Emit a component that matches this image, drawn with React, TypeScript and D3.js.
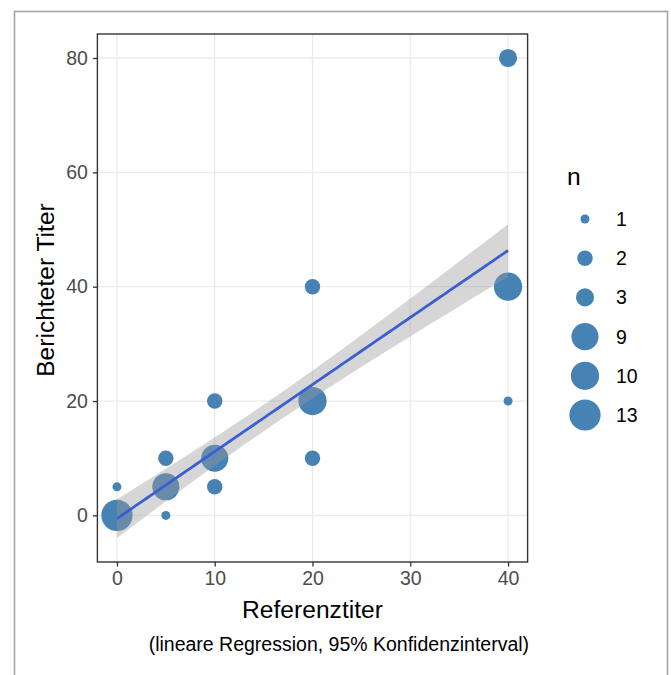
import React, { useRef, useEffect } from "react";
import * as d3 from "d3";

// data: Referenztiter (x), Berichteter Titer (y), Anzahl (n)
const refTiter = [0, 0, 5, 5, 5, 10, 10, 10, 20, 20, 20, 40, 40, 40];
const repTiter = [0, 5, 0, 5, 10, 5, 10, 20, 10, 20, 40, 20, 40, 80];
const counts = [13, 1, 1, 9, 2, 2, 9, 2, 2, 10, 2, 1, 10, 3];

const xTicks = [0, 10, 20, 30, 40];
const yTicks = [0, 20, 40, 60, 80];
const legendValues = [1, 2, 3, 9, 10, 13];

const W = 671;
const H = 675;
const panel = { left: 97.4, right: 527.6, top: 34, bottom: 562 };
const font = "Liberation Sans, Arial, sans-serif";
const pointColor = "#4682B4";

function App() {
  const svgRef = useRef<SVGSVGElement>(null);

  useEffect(() => {
    const svg = d3.select(svgRef.current);
    svg.selectAll("*").remove();

    const data = refTiter.map((x, i) => ({ x, y: repTiter[i], n: counts[i] }));

    // weighted linear regression (weights = n), like lm on the expanded data
    const N = d3.sum(data, (d) => d.n);
    const xbar = d3.sum(data, (d) => d.n * d.x) / N;
    const ybar = d3.sum(data, (d) => d.n * d.y) / N;
    const sxx = d3.sum(data, (d) => d.n * (d.x - xbar) ** 2);
    const sxy = d3.sum(data, (d) => d.n * (d.x - xbar) * (d.y - ybar));
    const slope = sxy / sxx;
    const icpt = ybar - slope * xbar;
    const rss = d3.sum(data, (d) => d.n * (d.y - icpt - slope * d.x) ** 2);
    const sigma = Math.sqrt(rss / (N - 2));
    const tCrit = 1.997; // t(0.975, df = 65)

    const xr = d3.extent(data, (d) => d.x) as [number, number];
    const fit = d3.range(0, 81).map((i) => {
      const x = xr[0] + ((xr[1] - xr[0]) * i) / 80;
      const y = icpt + slope * x;
      const se = sigma * Math.sqrt(1 / N + (x - xbar) ** 2 / sxx);
      return { x, y, lo: y - tCrit * se, hi: y + tCrit * se };
    });

    const xPad = (xr[1] - xr[0]) * 0.05;
    const x = d3
      .scaleLinear()
      .domain([xr[0] - xPad, xr[1] + xPad])
      .range([panel.left, panel.right]);

    const yMin = Math.min(d3.min(data, (d) => d.y)!, d3.min(fit, (d) => d.lo)!);
    const yMax = Math.max(d3.max(data, (d) => d.y)!, d3.max(fit, (d) => d.hi)!);
    const yPad = (yMax - yMin) * 0.05;
    const y = d3
      .scaleLinear()
      .domain([yMin - yPad, yMax + yPad])
      .range([panel.bottom, panel.top]);

    const nExt = d3.extent(counts) as [number, number];
    const r = d3
      .scaleSqrt()
      .domain([0, nExt[1] - nExt[0]])
      .range([4.5, 15.6]);
    const rad = (n: number) => r(n - nExt[0]);

    // outer frame
    svg
      .append("rect")
      .attr("x", 14.5)
      .attr("y", 11.5)
      .attr("width", 653)
      .attr("height", 700)
      .attr("fill", "none")
      .attr("stroke", "#a3a3a3")
      .attr("stroke-width", 1.6);

    // grid
    const g = svg.append("g");
    g.selectAll(".gx")
      .data(xTicks)
      .join("line")
      .attr("x1", (d) => x(d))
      .attr("x2", (d) => x(d))
      .attr("y1", panel.top)
      .attr("y2", panel.bottom)
      .attr("stroke", "#EBEBEB")
      .attr("stroke-width", 1.3);
    g.selectAll(".gy")
      .data(yTicks)
      .join("line")
      .attr("x1", panel.left)
      .attr("x2", panel.right)
      .attr("y1", (d) => y(d))
      .attr("y2", (d) => y(d))
      .attr("stroke", "#EBEBEB")
      .attr("stroke-width", 1.3);

    // points
    svg
      .append("g")
      .selectAll("circle")
      .data(data)
      .join("circle")
      .attr("cx", (d) => x(d.x))
      .attr("cy", (d) => y(d.y))
      .attr("r", (d) => rad(d.n))
      .attr("fill", pointColor);

    // ribbon + line
    const area = d3
      .area<any>()
      .x((d) => x(d.x))
      .y0((d) => y(d.lo))
      .y1((d) => y(d.hi));
    svg
      .append("path")
      .attr("d", area(fit))
      .attr("fill", "#999999")
      .attr("fill-opacity", 0.4);
    const ln = d3
      .line<any>()
      .x((d) => x(d.x))
      .y((d) => y(d.y));
    svg
      .append("path")
      .attr("d", ln(fit))
      .attr("fill", "none")
      .attr("stroke", "#3a5fd0")
      .attr("stroke-width", 2.8);

    // panel border
    svg
      .append("rect")
      .attr("x", panel.left)
      .attr("y", panel.top)
      .attr("width", panel.right - panel.left)
      .attr("height", panel.bottom - panel.top)
      .attr("fill", "none")
      .attr("stroke", "#333333")
      .attr("stroke-width", 1.4);

    // axes
    const xAxis = d3.axisBottom(x).tickValues(xTicks).tickSize(4.5).tickPadding(5);
    const xg = svg
      .append("g")
      .attr("transform", `translate(0,${panel.bottom})`)
      .call(xAxis);
    xg.select(".domain").remove();
    xg.selectAll("line").attr("stroke", "#333333").attr("stroke-width", 1.3);
    xg.selectAll("text")
      .attr("fill", "#4D4D4D")
      .attr("font-size", 19.5)
      .attr("font-family", font);

    const yAxis = d3.axisLeft(y).tickValues(yTicks).tickSize(4.5).tickPadding(5);
    const yg = svg
      .append("g")
      .attr("transform", `translate(${panel.left},0)`)
      .call(yAxis);
    yg.select(".domain").remove();
    yg.selectAll("line").attr("stroke", "#333333").attr("stroke-width", 1.3);
    yg.selectAll("text")
      .attr("fill", "#4D4D4D")
      .attr("font-size", 19.5)
      .attr("font-family", font);

    // titles
    svg
      .append("text")
      .attr("x", (panel.left + panel.right) / 2)
      .attr("y", 618)
      .attr("text-anchor", "middle")
      .attr("font-size", 24.6)
      .attr("font-family", font)
      .attr("fill", "#000")
      .text("Referenztiter");
    svg
      .append("text")
      .attr("transform", `translate(54,${(panel.top + panel.bottom) / 2 - 8}) rotate(-90)`)
      .attr("text-anchor", "middle")
      .attr("font-size", 24.6)
      .attr("font-family", font)
      .attr("fill", "#000")
      .text("Berichteter Titer");
    svg
      .append("text")
      .attr("x", panel.right + 1.5)
      .attr("y", 651)
      .attr("text-anchor", "end")
      .attr("font-size", 19.5)
      .attr("font-family", font)
      .attr("fill", "#000")
      .text("(lineare Regression, 95% Konfidenzinterval)");

    // legend
    const lg = svg.append("g").attr("transform", "translate(585,0)");
    lg.append("text")
      .attr("x", -18)
      .attr("y", 185)
      .attr("font-size", 24.6)
      .attr("font-family", font)
      .attr("fill", "#000")
      .text("n");
    const ly = d3
      .scalePoint<number>()
      .domain(legendValues)
      .range([219, 415]);
    const items = lg
      .selectAll(".item")
      .data(legendValues)
      .join("g")
      .attr("transform", (d) => `translate(0,${ly(d)})`);
    items
      .append("circle")
      .attr("r", (d) => rad(d))
      .attr("fill", pointColor);
    items
      .append("text")
      .attr("x", 31)
      .attr("dy", "0.36em")
      .attr("font-size", 19.5)
      .attr("font-family", font)
      .attr("fill", "#000")
      .text((d) => d);
  }, []);

  return (
    <svg
      ref={svgRef}
      width={W}
      height={H}
      style={{ position: "absolute", left: 0, top: 0, background: "#fff" }}
    />
  );
}

export default App;
